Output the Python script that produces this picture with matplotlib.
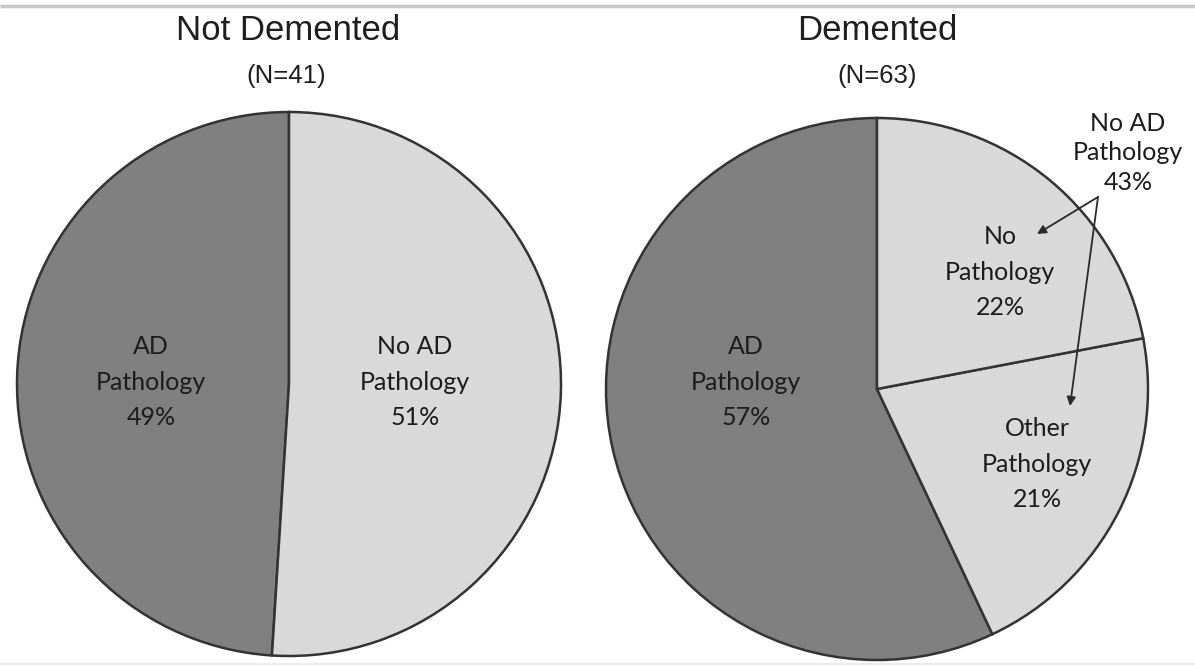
import matplotlib
matplotlib.use("Agg")
import matplotlib.pyplot as plt

# Pathology breakdown by dementia status
left_title = "Not Demented"
left_n = "(N=41)"
left_labels = ["AD\nPathology", "No AD\nPathology"]
left_values = [49, 51]

right_title = "Demented"
right_n = "(N=63)"
right_labels = ["AD\nPathology", "Other\nPathology", "No\nPathology"]
right_values = [57, 21, 22]

group_label = "No AD\nPathology"
group_value = right_values[1] + right_values[2]

W, H = 1195, 666
dark = "#808080"
light = "#d9d9d9"
edge = "#333333"
label_font = ["Lato", "DejaVu Sans"]
title_font = ["Liberation Sans", "DejaVu Sans"]

fig = plt.figure(figsize=(W / 100, H / 100), dpi=100)
ax = fig.add_axes([0, 0, 1, 1])

wedge_style = dict(edgecolor=edge, linewidth=1.8)

def py(y):
    return H - y

ax.pie(left_values, colors=[dark, light], startangle=90, counterclock=True,
       center=(289, py(384)), radius=272, wedgeprops=wedge_style, frame=True)
ax.pie(right_values, colors=[dark, light, light], startangle=90, counterclock=True,
       center=(877, py(389)), radius=271, wedgeprops=wedge_style, frame=True)

txt = dict(fontsize=18, family=label_font, color="#1c1c1c", ha="center",
           va="center", linespacing=1.68)

ax.text(151, py(382), f"{left_labels[0]}\n{left_values[0]}%", **txt)
ax.text(415, py(382), f"{left_labels[1]}\n{left_values[1]}%", **txt)
ax.text(746, py(382), f"{right_labels[0]}\n{right_values[0]}%", **txt)
ax.text(1000, py(272), f"{right_labels[2]}\n{right_values[2]}%", **txt)
ax.text(1037, py(464), f"{right_labels[1]}\n{right_values[1]}%", **txt)
ax.text(1128, py(153), f"{group_label}\n{group_value}%",
        **{**txt, "linespacing": 1.32})

arrow = dict(arrowstyle="-|>", color="#2a2a2a", lw=1.3, mutation_scale=13,
             shrinkA=0, shrinkB=0)
ax.annotate("", xy=(1037, py(234)), xytext=(1098, py(197)), arrowprops=arrow)
ax.annotate("", xy=(1070, py(406)), xytext=(1098, py(197)), arrowprops=arrow)

ax.text(288, py(31), left_title, fontsize=25, family=title_font,
        color="#1e1e1e", ha="center", va="center")
ax.text(286, py(76), left_n, fontsize=18.5, family=title_font,
        color="#1e1e1e", ha="center", va="center")
ax.text(877, py(31), right_title, fontsize=25, family=title_font,
        color="#1e1e1e", ha="center", va="center")
ax.text(877, py(76), right_n, fontsize=18.5, family=title_font,
        color="#1e1e1e", ha="center", va="center")

# thin rules framing the panel
ax.plot([0, W], [py(6), py(6)], color="#c8c8c8", lw=2.5, solid_capstyle="butt")
ax.plot([0, W], [py(664), py(664)], color="#ececec", lw=1.5, solid_capstyle="butt")

ax.set_xlim(0, W)
ax.set_ylim(0, H)
ax.set_aspect("auto")
ax.axis("off")

fig.savefig("out.png", dpi=100, facecolor="white")
